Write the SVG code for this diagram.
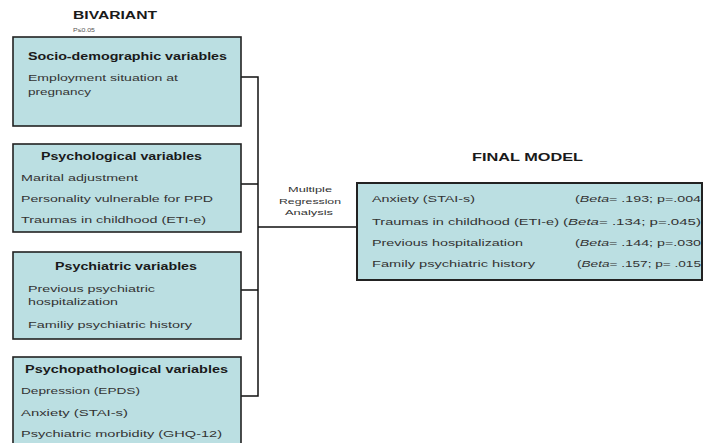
<svg xmlns="http://www.w3.org/2000/svg" width="704" height="443" viewBox="0 0 704 443">
<style>
text{font-family:"Liberation Sans",Arial,sans-serif;fill:#333;font-size:9.5px}
.h{font-weight:bold;fill:#1a1a1a;font-size:10px}
.big{font-weight:bold;fill:#1a1a1a;font-size:11px}
.sm{font-size:7.5px}
.box{fill:#bbdfe2;stroke:#222;stroke-width:1.6}
.conn{fill:none;stroke:#111;stroke-width:1.5}
</style>
<rect width="704" height="443" fill="#fff"/>
<g id="labels">
<text class="big" x="73" y="19" textLength="84" lengthAdjust="spacingAndGlyphs">BIVARIANT</text>
<text class="sm" x="73" y="32" textLength="22" lengthAdjust="spacingAndGlyphs" style="font-size:6px;fill:#555">P≤0.05</text>
<text class="big" x="472" y="161" textLength="111" lengthAdjust="spacingAndGlyphs">FINAL MODEL</text>
<text class="sm" x="310" y="191.5" text-anchor="middle" textLength="44" lengthAdjust="spacingAndGlyphs">Multiple</text>
<text class="sm" x="310" y="204" text-anchor="middle" textLength="62" lengthAdjust="spacingAndGlyphs">Regression</text>
<text class="sm" x="309" y="214.5" text-anchor="middle" textLength="48" lengthAdjust="spacingAndGlyphs">Analysis</text>
</g>
<g id="connectors">
<path class="conn" d="M241 77H258V396H241M241 184H258M241 290H258M258 227H357"/>
</g>
<g id="socio">
<rect class="box" x="13" y="37" width="228" height="89"/>
<text class="h" x="28" y="60" textLength="199" lengthAdjust="spacingAndGlyphs">Socio-demographic variables</text>
<text x="28" y="80.5" textLength="150" lengthAdjust="spacingAndGlyphs">Employment situation at</text>
<text x="28" y="95" textLength="63" lengthAdjust="spacingAndGlyphs">pregnancy</text>
</g>
<g id="psychological">
<rect class="box" x="13" y="144" width="228" height="88"/>
<text class="h" x="41" y="159.5" textLength="161" lengthAdjust="spacingAndGlyphs">Psychological variables</text>
<text x="21" y="180.5" textLength="117" lengthAdjust="spacingAndGlyphs">Marital adjustment</text>
<text x="21" y="201.5" textLength="192" lengthAdjust="spacingAndGlyphs">Personality vulnerable for PPD</text>
<text x="21" y="223" textLength="185" lengthAdjust="spacingAndGlyphs">Traumas in childhood (ETI-e)</text>
</g>
<g id="psychiatric">
<rect class="box" x="13" y="252" width="228" height="87"/>
<text class="h" x="55" y="269.5" textLength="142" lengthAdjust="spacingAndGlyphs">Psychiatric variables</text>
<text x="28" y="292" textLength="127" lengthAdjust="spacingAndGlyphs">Previous  psychiatric</text>
<text x="28" y="305" textLength="90" lengthAdjust="spacingAndGlyphs">hospitalization</text>
<text x="28" y="328" textLength="164" lengthAdjust="spacingAndGlyphs">Familiy psychiatric history</text>
</g>
<g id="psychopathological">
<rect class="box" x="13" y="357" width="228" height="95"/>
<text class="h" x="25" y="372.5" textLength="203" lengthAdjust="spacingAndGlyphs">Psychopathological variables</text>
<text x="21" y="394" textLength="119" lengthAdjust="spacingAndGlyphs">Depression (EPDS)</text>
<text x="21" y="416" textLength="107" lengthAdjust="spacingAndGlyphs">Anxiety (STAI-s)</text>
<text x="21" y="437" textLength="201" lengthAdjust="spacingAndGlyphs">Psychiatric morbidity (GHQ-12)</text>
</g>
<g id="final">
<rect class="box" x="357" y="183" width="345" height="97" style="stroke-width:2"/>
<text x="372" y="202" textLength="103" lengthAdjust="spacingAndGlyphs">Anxiety (STAI-s)</text>
<text x="372" y="224.5" textLength="187" lengthAdjust="spacingAndGlyphs">Traumas in childhood (ETI-e)</text>
<text x="372" y="246" textLength="151" lengthAdjust="spacingAndGlyphs">Previous hospitalization</text>
<text x="372" y="267" textLength="163" lengthAdjust="spacingAndGlyphs">Family psychiatric history</text>
<text x="575" y="202" textLength="126" lengthAdjust="spacingAndGlyphs">(<tspan font-style="italic">Beta</tspan>= .193; p=.004</text>
<text x="563" y="224.5" textLength="138" lengthAdjust="spacingAndGlyphs">(<tspan font-style="italic">Beta</tspan>= .134; p=.045)</text>
<text x="575" y="246" textLength="126" lengthAdjust="spacingAndGlyphs">(<tspan font-style="italic">Beta</tspan>= .144; p=.030</text>
<text x="577" y="267" textLength="124" lengthAdjust="spacingAndGlyphs">(<tspan font-style="italic">Beta</tspan>= .157; p= .015</text>
</g>
</svg>
